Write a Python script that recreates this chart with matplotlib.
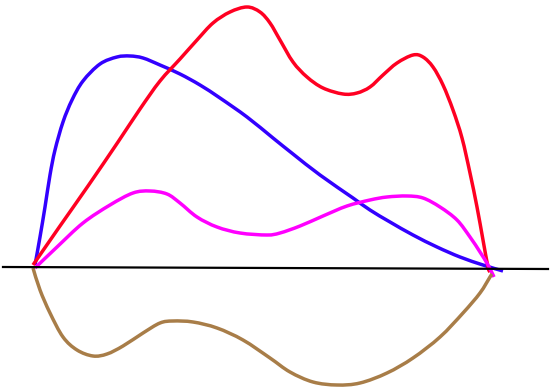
import matplotlib
matplotlib.use("Agg")
import matplotlib.pyplot as plt
from matplotlib.path import Path
from matplotlib.patches import PathPatch

# --- traced curves (pixel coordinates, y down) ---
axis_x = [3, 548]
axis_y = [267, 269]

blue_x = [35, 40, 45, 50, 55, 63, 72, 83, 100, 117, 130, 143, 160, 180, 200, 220, 247,
          273, 293, 320, 353, 370, 390, 413, 437, 460, 483, 503]
blue_y = [265, 237, 207, 175, 150, 122, 100, 81, 64, 57, 56, 58, 65, 74, 85, 98, 117,
          138, 154, 175, 198, 210, 222, 235, 247, 257, 265, 271]

red_x = [33, 60, 88, 118, 140, 160, 180, 197, 213, 230, 247, 260, 270, 280, 293, 307, 323,
         343, 357, 370, 383, 397, 413, 423, 433, 443, 453, 462, 470, 477, 483, 488, 490]
red_y = [265, 226, 186, 142, 109, 81, 59, 40, 23, 12, 7, 12, 23, 40, 62, 77, 88,
         94, 93, 87, 75, 63, 55, 57, 67, 85, 110, 138, 173, 207, 240, 267, 272]

magenta_x = [35, 57, 83, 110, 133, 150, 167, 180, 197, 217, 240, 267, 280, 300, 323, 347,
             370, 387, 407, 423, 440, 457, 470, 480, 488, 494]
magenta_y = [268, 247, 223, 205, 193, 191, 194, 203, 217, 227, 233, 235, 233, 226, 216, 206,
             200, 197, 196, 198, 207, 220, 237, 252, 265, 277]

brown_x = [33, 40, 50, 63, 77, 93, 107, 123, 143, 160, 173, 193, 217, 243, 270, 290, 313,
           337, 360, 387, 413, 440, 463, 480, 490, 492]
brown_y = [268, 290, 313, 337, 350, 356, 354, 346, 333, 323, 321, 322, 328, 340, 358, 372, 382,
           385, 383, 373, 358, 337, 313, 293, 277, 274]


def smooth_path(xs, ys):
    # Catmull-Rom through the traced points, as cubic bezier segments
    pts = list(zip(xs, ys))
    verts = [pts[0]]
    codes = [Path.MOVETO]
    n = len(pts)
    for i in range(n - 1):
        p0 = pts[i - 1] if i > 0 else pts[i]
        p1 = pts[i]
        p2 = pts[i + 1]
        p3 = pts[i + 2] if i + 2 < n else pts[i + 1]
        c1 = (p1[0] + (p2[0] - p0[0]) / 6, p1[1] + (p2[1] - p0[1]) / 6)
        c2 = (p2[0] - (p3[0] - p1[0]) / 6, p2[1] - (p3[1] - p1[1]) / 6)
        verts += [c1, c2, p2]
        codes += [Path.CURVE4] * 3
    return Path(verts, codes)


fig = plt.figure(figsize=(5.5, 3.9), dpi=100)
ax = fig.add_axes([0, 0, 1, 1])
ax.set_xlim(0, 550)
ax.set_ylim(390, 0)
ax.axis('off')

ax.plot(axis_x, axis_y, color='black', lw=1.6)
for xs, ys, col in [(blue_x, blue_y, '#3300ff'), (red_x, red_y, '#ff0022'),
                    (magenta_x, magenta_y, '#ff00ff'), (brown_x, brown_y, '#a87d48')]:
    ax.add_patch(PathPatch(smooth_path(xs, ys), facecolor='none', edgecolor=col,
                           lw=2.5, joinstyle='round', capstyle='butt'))

fig.savefig("out.png", dpi=100)
